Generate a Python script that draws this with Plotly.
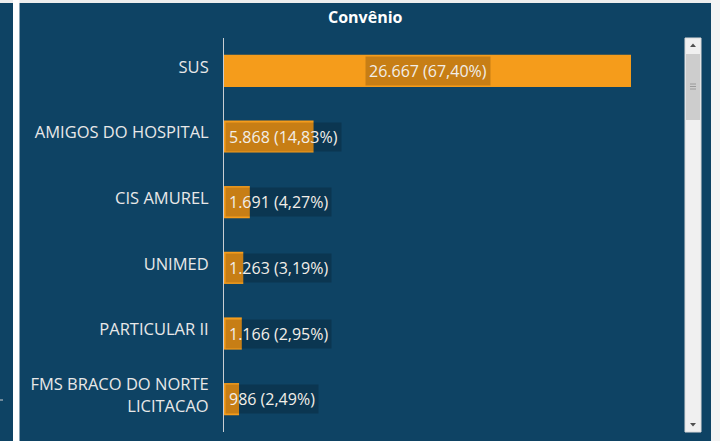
import plotly.graph_objects as go

categories = ["SUS", "AMIGOS DO HOSPITAL", "CIS AMUREL", "UNIMED", "PARTICULAR II",
              "FMS BRACO DO NORTE<br>LICITACAO"]
values = [26667, 5868, 1691, 1263, 1166, 986]
percents = [67.40, 14.83, 4.27, 3.19, 2.95, 2.49]

W, H = 720, 441
L, R, T, B = 224, 36, 38, 9
PW, PH = W - L - R, H - T - B

PANEL = "#0E4364"
ORANGE = "#F59C1B"


def px(x):
    return (x - L) / PW


def py(y):
    return (H - B - y) / PH


def fmt(v, p):
    return f"{v:,}".replace(",", ".") + " (" + f"{p:.2f}".replace(".", ",") + "%)"


fig = go.Figure()
fig.add_trace(go.Bar(
    x=values, y=categories, orientation="h", width=0.49,
    marker=dict(color=ORANGE, line=dict(width=0)),
    hoverinfo="skip",
))

annotations = []
for c, v, p in zip(categories, values, percents):
    inside = v > 10000
    annotations.append(dict(
        x=v / 2 if inside else 0, y=c, xref="x", yref="y",
        xanchor="center" if inside else "left", xshift=0 if inside else 1,
        text=fmt(v, p), showarrow=False,
        font=dict(family="Open Sans", size=16, color="#F2EEE8"),
        bgcolor="rgba(0,0,0,0.19)", borderpad=3,
    ))

annotations.append(dict(
    x=px(365), y=py(17), xref="paper", yref="paper",
    text="<b>Convênio</b>", showarrow=False, xanchor="center", yanchor="middle",
    font=dict(family="Open Sans", size=16, color="#FFFFFF"),
))

shapes = []


def rect(x0, y0, x1, y1, fill):
    shapes.append(dict(type="rect", xref="paper", yref="paper",
                       x0=px(x0), x1=px(x1), y0=py(y1), y1=py(y0),
                       fillcolor=fill, line=dict(width=0), layer="below"))


# page background pieces
rect(0, 0, W, 3, "#EDEDED")
rect(13, 0, 19.5, H, "#FFFFFF")
rect(711, 0, W, H, "#F4F4F4")
rect(0, 3, 13, H, PANEL)
shapes.append(dict(type="line", xref="paper", yref="paper",
                   x0=px(0), x1=px(3), y0=py(400), y1=py(400),
                   line=dict(color="#CFCFCF", width=1)))

# scrollbar
shapes.append(dict(type="rect", xref="paper", yref="paper",
                   x0=px(685), x1=px(701), y0=py(432), y1=py(38),
                   fillcolor="#F0F0F0", line=dict(color="#DADADA", width=1)))
shapes.append(dict(type="rect", xref="paper", yref="paper",
                   x0=px(686), x1=px(700), y0=py(120), y1=py(54),
                   fillcolor="#CDCDCD", line=dict(width=0)))
for yy in (84, 86.5, 89):
    shapes.append(dict(type="line", xref="paper", yref="paper",
                       x0=px(690), x1=px(696), y0=py(yy), y1=py(yy),
                       line=dict(color="#9A9A9A", width=1)))
shapes.append(dict(type="path", xref="paper", yref="paper",
                   path=f"M {px(690)} {py(47)} L {px(696)} {py(47)} L {px(693)} {py(43.5)} Z",
                   fillcolor="#505050", line=dict(width=0)))
shapes.append(dict(type="path", xref="paper", yref="paper",
                   path=f"M {px(690)} {py(423)} L {px(696)} {py(423)} L {px(693)} {py(426.5)} Z",
                   fillcolor="#505050", line=dict(width=0)))

fig.update_layout(
    width=W, height=H,
    margin=dict(l=L, r=R, t=T, b=B, pad=0),
    paper_bgcolor=PANEL, plot_bgcolor=PANEL,
    showlegend=False,
    xaxis=dict(range=[0, 30140], visible=False, fixedrange=True),
    yaxis=dict(type="category", range=[5.5, -0.5], showgrid=False, zeroline=False,
               showline=True, linecolor="#C8CDD2", linewidth=1,
               ticks="", ticklabelstandoff=11, ticklabelshift=4,
               tickfont=dict(family="Open Sans", size=16.5, color="#E8E8E8"),
               fixedrange=True),
    annotations=annotations,
    shapes=shapes,
    bargap=0.5,
)

fig.write_html("out.html", config={"displayModeBar": False},
               post_script="document.body.style.margin='0';document.body.style.overflow='hidden';")
